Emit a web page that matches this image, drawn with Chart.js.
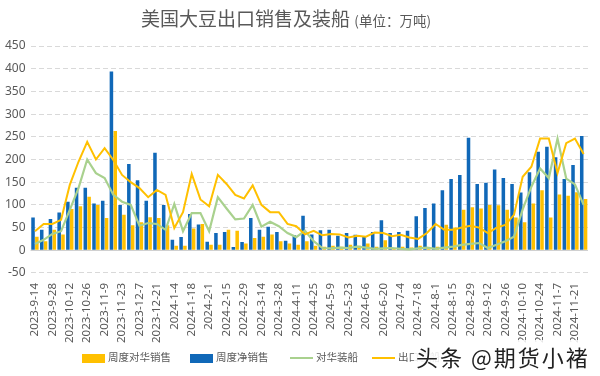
<!DOCTYPE html>
<html>
<head>
<meta charset="utf-8">
<script src="https://cdn.jsdelivr.net/npm/chart.js@4.4.0/dist/chart.umd.min.js"></script>
<style>
  body { margin: 0; background: #fff; }
  #wrap { position: relative; width: 600px; height: 376px; font-family: "Noto Sans CJK SC", "Noto Sans", sans-serif; }
  #chart { position: absolute; left: 0; top: 0; }
  #title { position: absolute; left: -14px; width: 600px; top: 4px; text-align: center; color: #595959; font-size: 19px; }
  #title small { font-size: 13.5px; }
  .leg { position: absolute; top: 348px; font-size: 10.5px; color: #595959; line-height: 18px; white-space: nowrap; }
  .leg i { display: inline-block; vertical-align: middle; margin-right: 3px; }
  #mark { position: absolute; left: 414px; top: 340px; font-size: 22px; letter-spacing: 2px; color: #222;
          text-shadow: 0 0 2px #fff, 0 0 3px #fff, 0 0 4px #fff; background: rgba(255,255,255,0.85); padding: 0 2px; }
</style>
</head>
<body>
<div id="wrap">
  <canvas id="chart" width="600" height="376"></canvas>
  <div id="title">美国大豆出口销售及装船 <small>(单位：万吨)</small></div>
  <div class="leg" style="left:82px"><i style="width:23px;height:9px;background:#ffc000"></i>周度对华销售</div>
  <div class="leg" style="left:190px"><i style="width:23px;height:9px;background:#1068b8"></i>周度净销售</div>
  <div class="leg" style="left:290px"><i style="width:23px;height:2px;background:#a9d18e"></i>对华装船</div>
  <div class="leg" style="left:372px"><i style="width:23px;height:2px;background:#ffc000"></i>出口装船</div>
  <div id="mark">头条 @期货小褚</div>
</div>
<script>
// weekly dates
var weeks = ['2023-9-14','2023-9-21','2023-9-28','2023-10-5','2023-10-12','2023-10-19','2023-10-26','2023-11-2',
  '2023-11-9','2023-11-16','2023-11-23','2023-11-30','2023-12-7','2023-12-14','2023-12-21','2023-12-28',
  '2024-1-4','2024-1-11','2024-1-18','2024-1-25','2024-2-1','2024-2-8','2024-2-15','2024-2-22',
  '2024-2-29','2024-3-7','2024-3-14','2024-3-21','2024-3-28','2024-4-4','2024-4-11','2024-4-18',
  '2024-4-25','2024-5-2','2024-5-9','2024-5-16','2024-5-23','2024-5-30','2024-6-6','2024-6-13',
  '2024-6-20','2024-6-27','2024-7-4','2024-7-11','2024-7-18','2024-7-25','2024-8-1','2024-8-8',
  '2024-8-15','2024-8-22','2024-8-29','2024-9-5','2024-9-12','2024-9-19','2024-9-26','2024-10-3',
  '2024-10-10','2024-10-17','2024-10-24','2024-10-31','2024-11-7','2024-11-14','2024-11-21','2024-11-28'];

// 周度对华销售
var chinaSales = [30,20,45,35,91,97,118,100,71,263,78,55,62,73,71,55,
  10,10,48,58,12,12,45,43,15,27,30,35,20,15,12,20,
  10,8,10,8,12,10,15,8,22,5,8,6,10,3,8,56,
  50,89,95,92,100,99,89,72,62,103,132,72,123,120,128,113];

// 周度净销售
var netSales = [72,45,69,83,107,138,138,103,109,394,100,190,154,109,215,100,
  23,29,80,57,19,38,40,7,18,71,45,52,40,21,33,76,
  35,44,45,32,38,34,29,40,66,38,40,43,75,93,103,132,
  157,166,248,146,149,178,159,146,127,172,217,228,205,157,188,252];

// 对华装船
var chinaShip = [14,23,36,42,89,137,200,170,159,122,107,100,54,60,58,45,
  102,42,82,82,42,117,92,68,70,100,52,63,53,38,29,43,
  20,5,4,6,5,8,6,3,4,5,3,2,4,6,3,6,
  8,12,14,16,5,12,20,30,90,140,180,159,246,158,145,100];

// 出口装船
var exportShip = [42,58,58,67,144,195,239,200,225,199,166,150,137,117,133,122,
  49,84,168,112,97,166,146,122,114,143,100,84,84,58,53,35,
  43,33,36,35,28,32,30,39,38,31,34,28,25,38,58,45,
  45,50,54,50,38,50,56,78,162,184,246,246,170,236,246,212];

var yTicks = [-50, 450, 50];

// solid line at zero, drawn over the dashed grid
var zeroLine = {
  id: 'zeroLine',
  beforeDatasetsDraw: function(chart) {
    var ctx = chart.ctx;
    var y = chart.scales.y.getPixelForValue(0);
    ctx.save();
    ctx.strokeStyle = '#d0d0d0';
    ctx.lineWidth = 1;
    ctx.beginPath();
    ctx.moveTo(chart.chartArea.left, Math.round(y) + 0.5);
    ctx.lineTo(chart.chartArea.right, Math.round(y) + 0.5);
    ctx.stroke();
    ctx.restore();
  }
};

var ctx = document.getElementById('chart').getContext('2d');
new Chart(ctx, {
  type: 'bar',
  data: {
    labels: weeks,
    datasets: [
      { type: 'bar', label: '周度对华销售', data: chinaSales, backgroundColor: '#ffc000', order: 3,
        categoryPercentage: 0.88, barPercentage: 0.92 },
      { type: 'bar', label: '周度净销售', data: netSales, backgroundColor: '#1068b8', order: 2,
        categoryPercentage: 0.88, barPercentage: 0.92 },
      { type: 'line', label: '对华装船', data: chinaShip, borderColor: '#a9d18e', borderWidth: 2.2,
        pointRadius: 0, tension: 0, fill: false, order: 1 },
      { type: 'line', label: '出口装船', data: exportShip, borderColor: '#ffc000', borderWidth: 2,
        pointRadius: 0, tension: 0, fill: false, order: 0 }
    ]
  },
  options: {
    responsive: false,
    animation: false,
    devicePixelRatio: 1,
    layout: { padding: { top: 46, left: 0, right: 12, bottom: 31 } },
    plugins: {
      legend: { display: false },
      tooltip: { enabled: false }
    },
    scales: {
      x: {
        grid: { display: false },
        border: { display: false },
        ticks: {
          autoSkip: false,
          maxRotation: 90,
          minRotation: 90,
          padding: 2,
          color: '#595959',
          font: { size: 11.5, family: '"Noto Sans", sans-serif' },
          callback: function(v, i) { return i % 2 === 0 ? weeks[i] : ''; }
        }
      },
      y: {
        min: yTicks[0],
        max: yTicks[1],
        border: { display: false, dash: function(c) { return c.tick && c.tick.value === 0 ? [] : [5, 3]; } },
        grid: { color: function(c) { return c.tick && c.tick.value === 0 ? 'rgba(0,0,0,0)' : '#d9d9d9'; }, drawTicks: false },
        ticks: {
          stepSize: yTicks[2],
          padding: 5,
          color: '#595959',
          font: { size: 12, family: '"Noto Sans", sans-serif' }
        }
      }
    }
  },
  plugins: [zeroLine]
});
</script>
</body>
</html>
